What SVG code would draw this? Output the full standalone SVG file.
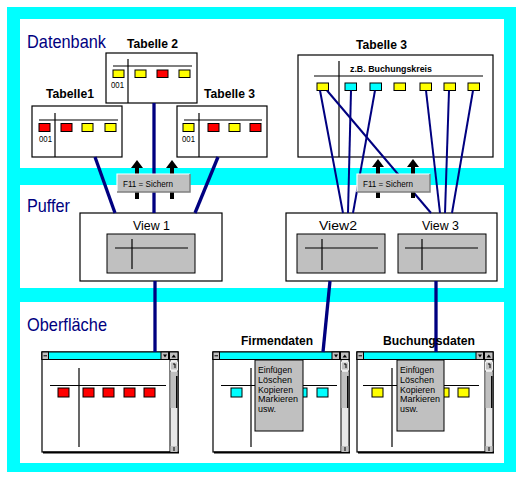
<svg xmlns="http://www.w3.org/2000/svg" width="523" height="479" viewBox="0 0 523 479">
<style>
.panel{fill:#fff}
.box{fill:#fff;stroke:#000;stroke-width:1.2}
.ln{stroke:#000;stroke-width:1.2;fill:none}
.sq{stroke:#000;stroke-width:1}
.r{fill:#ff0000}.y{fill:#ffff00}.c{fill:#00ffff}
.sec{font-family:"Liberation Sans",Arial,sans-serif;font-size:19px;fill:#000080}
.ttl{font-family:"Liberation Sans",Arial,sans-serif;font-size:12.5px;font-weight:bold;fill:#000}
.vw{font-family:"Liberation Sans",Arial,sans-serif;font-size:13.5px;fill:#000}
.sm{font-family:"Liberation Sans",Arial,sans-serif;font-size:9.5px;fill:#000}
.gray{fill:#c0c0c0;stroke:#000;stroke-width:1}
.con{stroke:#000080;fill:none}
.thick{stroke-width:3.3}
.thin{stroke-width:2}
</style>
<defs>
<g id="arrow"><polygon points="-6,8 0,0 6,8 2,8 2,39 -2,39 -2,8" fill="#000"/></g>
<g id="btn">
<rect x="0" y="0" width="73" height="18" fill="#c0c0c0"/>
<polyline points="0,18 0,0 73,0" fill="none" stroke="#fff" stroke-width="1.2"/>
<polyline points="0,18 73,18 73,0" fill="none" stroke="#808080" stroke-width="1.5"/>
<text x="6" y="12.5" class="sm" textLength="50" lengthAdjust="spacingAndGlyphs">F11 = Sichern</text>
</g>
<g id="win">
<rect x="0" y="0" width="136" height="100" fill="#fff" stroke="#000" stroke-width="1.2"/>
<line x1="1" y1="100.5" x2="137" y2="100.5" stroke="#000" stroke-width="2"/>
<rect x="0" y="0" width="136" height="7.5" fill="#00ffff" stroke="#000" stroke-width="1"/>
<rect x="0" y="0" width="6.5" height="7.5" fill="#c0c0c0" stroke="#000" stroke-width="1"/>
<line x1="1.5" y1="3.8" x2="5" y2="3.8" stroke="#000" stroke-width="1"/>
<rect x="119" y="0" width="7.5" height="7.5" fill="#c0c0c0" stroke="#000" stroke-width="1"/>
<polygon points="121,2.5 125,2.5 123,5.5" fill="#000"/>
<rect x="127.5" y="0" width="8.5" height="7.5" fill="#c0c0c0" stroke="#000" stroke-width="1"/>
<polygon points="129.5,5.5 134,5.5 131.8,2.5" fill="#000"/>
<rect x="128" y="7.5" width="8" height="92.5" fill="#e8e8e8" stroke="#000" stroke-width="1"/>
<rect x="128.5" y="10" width="7" height="8" fill="#c0c0c0" stroke="#fff" stroke-width="0.8"/>
<line x1="131" y1="12" x2="133" y2="12" stroke="#000"/><line x1="133" y1="12" x2="133" y2="16" stroke="#000"/>
<rect x="128.5" y="20" width="7" height="36" fill="#c0c0c0"/>
<line x1="134.8" y1="24" x2="134.8" y2="56" stroke="#000" stroke-width="1.5"/>
<rect x="128.5" y="94" width="7" height="6" fill="#c0c0c0"/>
<line x1="132" y1="95" x2="132" y2="99" stroke="#000"/>
</g>
</defs>

<rect x="7" y="7" width="509" height="465" fill="#00ffff"/>
<rect class="panel" x="20" y="19" width="484" height="149"/>
<rect class="panel" x="20" y="185" width="484" height="103"/>
<rect class="panel" x="20" y="302" width="484" height="161"/>
<text class="sec" x="27" y="48" textLength="79" lengthAdjust="spacingAndGlyphs">Datenbank</text>
<text class="sec" x="27" y="212" textLength="43" lengthAdjust="spacingAndGlyphs">Puffer</text>
<text class="sec" x="27" y="331" textLength="80" lengthAdjust="spacingAndGlyphs">Oberfläche</text>

<g id="tabelle2">
<text class="ttl" x="127" y="48" textLength="51" lengthAdjust="spacingAndGlyphs">Tabelle 2</text>
<rect class="box" x="106" y="53" width="91" height="50"/>
<line class="ln" x1="113" y1="66" x2="192" y2="66"/>
<line class="ln" x1="128" y1="59" x2="128" y2="103"/>
<rect class="sq y" x="113" y="70" width="11" height="7.5"/>
<rect class="sq y" x="135" y="70" width="11" height="7.5"/>
<rect class="sq r" x="157" y="70" width="11" height="7.5"/>
<rect class="sq y" x="179" y="70" width="11" height="7.5"/>
<text class="sm" x="111" y="88" textLength="13" lengthAdjust="spacingAndGlyphs">001</text>
</g>

<g id="tabelle1">
<text class="ttl" x="46" y="98" textLength="48" lengthAdjust="spacingAndGlyphs">Tabelle1</text>
<rect class="box" x="32" y="106" width="90" height="51"/>
<line class="ln" x1="39" y1="120" x2="118" y2="120"/>
<line class="ln" x1="55" y1="113" x2="55" y2="157"/>
<rect class="sq r" x="39" y="123.5" width="11" height="8"/>
<rect class="sq r" x="61" y="123.5" width="11" height="8"/>
<rect class="sq y" x="82" y="123.5" width="11" height="8"/>
<rect class="sq y" x="105" y="123.5" width="11" height="8"/>
<text class="sm" x="39" y="142" textLength="13" lengthAdjust="spacingAndGlyphs">001</text>
</g>

<g id="tabelle3a">
<text class="ttl" x="204" y="98" textLength="51" lengthAdjust="spacingAndGlyphs">Tabelle 3</text>
<rect class="box" x="177" y="106" width="90" height="51"/>
<line class="ln" x1="184" y1="120" x2="262" y2="120"/>
<line class="ln" x1="199" y1="113" x2="199" y2="157"/>
<rect class="sq y" x="183" y="123.5" width="11" height="8"/>
<rect class="sq r" x="208" y="123.5" width="11" height="8"/>
<rect class="sq y" x="229" y="123.5" width="11" height="8"/>
<rect class="sq r" x="250" y="123.5" width="11" height="8"/>
<text class="sm" x="182" y="142" textLength="13" lengthAdjust="spacingAndGlyphs">001</text>
</g>

<g id="tabelle3b">
<text class="ttl" x="356" y="49" textLength="51" lengthAdjust="spacingAndGlyphs">Tabelle 3</text>
<rect class="box" x="298" y="55" width="195" height="102"/>
<line class="ln" x1="314" y1="76" x2="483" y2="76"/>
<line class="ln" x1="339" y1="61" x2="339" y2="157"/>
<text class="sm" x="350" y="72" font-weight="bold" textLength="82" lengthAdjust="spacingAndGlyphs">z.B. Buchungskreis</text>
<rect class="sq y" x="317" y="83" width="11.5" height="7.5"/>
<rect class="sq c" x="345" y="83" width="11.5" height="7.5"/>
<rect class="sq c" x="370" y="83" width="11.5" height="7.5"/>
<rect class="sq y" x="394" y="83" width="11.5" height="7.5"/>
<rect class="sq y" x="420" y="83" width="11.5" height="7.5"/>
<rect class="sq y" x="444" y="83" width="11.5" height="7.5"/>
<rect class="sq y" x="468" y="83" width="11.5" height="7.5"/>
</g>

<g id="view1">
<rect class="box" x="80" y="213" width="142" height="68"/>
<text class="vw" x="133" y="230" textLength="37" lengthAdjust="spacingAndGlyphs">View 1</text>
<rect class="gray" x="107" y="234" width="88" height="39"/>
<line class="ln" x1="115" y1="248" x2="188" y2="248"/>
<line class="ln" x1="132" y1="239" x2="132" y2="269"/>
</g>

<g id="view23">
<rect class="box" x="286" y="213" width="211" height="68"/>
<text class="vw" x="319" y="230" textLength="38" lengthAdjust="spacingAndGlyphs">View2</text>
<text class="vw" x="422" y="230" textLength="37" lengthAdjust="spacingAndGlyphs">View 3</text>
<rect class="gray" x="297" y="234" width="88" height="39"/>
<line class="ln" x1="305" y1="248" x2="378" y2="248"/>
<line class="ln" x1="322" y1="239" x2="322" y2="270"/>
<rect class="gray" x="398" y="234" width="88" height="39"/>
<line class="ln" x1="405" y1="248" x2="478" y2="248"/>
<line class="ln" x1="422" y1="239" x2="422" y2="270"/>
</g>

<g id="window1">
<use href="#win" x="42" y="352"/>
<line class="ln" x1="50" y1="385.5" x2="166" y2="385.5"/>
<line class="ln" x1="79" y1="368" x2="79" y2="447"/>
<rect class="sq r" x="58" y="388" width="11" height="9"/>
<rect class="sq r" x="83" y="388" width="11" height="9"/>
<rect class="sq r" x="103" y="388" width="11" height="9"/>
<rect class="sq r" x="124" y="388" width="11" height="9"/>
<rect class="sq r" x="144" y="388" width="11" height="9"/>
</g>

<g id="window2">
<text class="ttl" x="241" y="345" textLength="72" lengthAdjust="spacingAndGlyphs">Firmendaten</text>
<use href="#win" x="213" y="352"/>
<line class="ln" x1="221" y1="385.5" x2="337" y2="385.5"/>
<line class="ln" x1="251" y1="368" x2="251" y2="447"/>
<rect class="sq c" x="231" y="388" width="11" height="9"/>
<rect class="sq c" x="296" y="388" width="11" height="9"/>
<rect class="sq c" x="317" y="388" width="11" height="9"/>
<rect class="gray" x="255" y="360" width="48" height="71"/>
<g class="sm">
<text x="258" y="373" textLength="34" lengthAdjust="spacingAndGlyphs">Einfügen</text>
<text x="258" y="382.5" textLength="34" lengthAdjust="spacingAndGlyphs">Löschen</text>
<text x="258" y="392.5" textLength="35" lengthAdjust="spacingAndGlyphs">Kopieren</text>
<text x="258" y="402" textLength="40" lengthAdjust="spacingAndGlyphs">Markieren</text>
<text x="258" y="411.5" textLength="18" lengthAdjust="spacingAndGlyphs">usw.</text>
</g>
</g>

<g id="window3">
<use href="#win" x="357" y="352"/>
<line class="ln" x1="363" y1="385.5" x2="479" y2="385.5"/>
<line class="ln" x1="392" y1="368" x2="392" y2="447"/>
<rect class="sq y" x="372" y="388" width="11" height="9"/>
<rect class="sq y" x="438" y="388" width="11" height="9"/>
<rect class="sq y" x="458" y="388" width="11" height="9"/>
<rect class="gray" x="397" y="360" width="47" height="71"/>
<g class="sm">
<text x="400" y="373" textLength="34" lengthAdjust="spacingAndGlyphs">Einfügen</text>
<text x="400" y="382.5" textLength="34" lengthAdjust="spacingAndGlyphs">Löschen</text>
<text x="400" y="392.5" textLength="35" lengthAdjust="spacingAndGlyphs">Kopieren</text>
<text x="400" y="402" textLength="40" lengthAdjust="spacingAndGlyphs">Markieren</text>
<text x="400" y="411.5" textLength="18" lengthAdjust="spacingAndGlyphs">usw.</text>
</g>
</g>

<g id="connectors">
<line class="con thick" x1="95" y1="157" x2="115" y2="213"/>
<line class="con thick" x1="154" y1="103" x2="154" y2="213"/>
<line class="con thick" x1="218" y1="157" x2="195" y2="213"/>
<line class="con thick" x1="155" y1="281" x2="155" y2="352"/>
<line class="con thick" x1="330" y1="281" x2="323" y2="352"/>
<line class="con thick" x1="436" y1="281" x2="436" y2="352"/>
<line class="con thin" x1="320" y1="90.5" x2="343" y2="213"/>
<line class="con thin" x1="327" y1="90.5" x2="431" y2="213"/>
<line class="con thin" x1="351" y1="90.5" x2="348" y2="213"/>
<line class="con thin" x1="375" y1="90.5" x2="353" y2="213"/>
<line class="con thin" x1="426" y1="90.5" x2="440" y2="213"/>
<line class="con thin" x1="449" y1="90.5" x2="445" y2="213"/>
<line class="con thin" x1="473" y1="90.5" x2="452" y2="213"/>
</g>

<g id="sichern1">
<use href="#arrow" x="137" y="160"/>
<use href="#arrow" x="172" y="160"/>
<use href="#btn" x="117" y="174"/>
</g>
<g id="sichern2">
<use href="#arrow" x="378" y="159"/>
<use href="#arrow" x="413" y="159"/>
<use href="#btn" x="357" y="174"/>
</g>

<text class="ttl" x="383" y="345" textLength="92" lengthAdjust="spacingAndGlyphs">Buchungsdaten</text>
</svg>
